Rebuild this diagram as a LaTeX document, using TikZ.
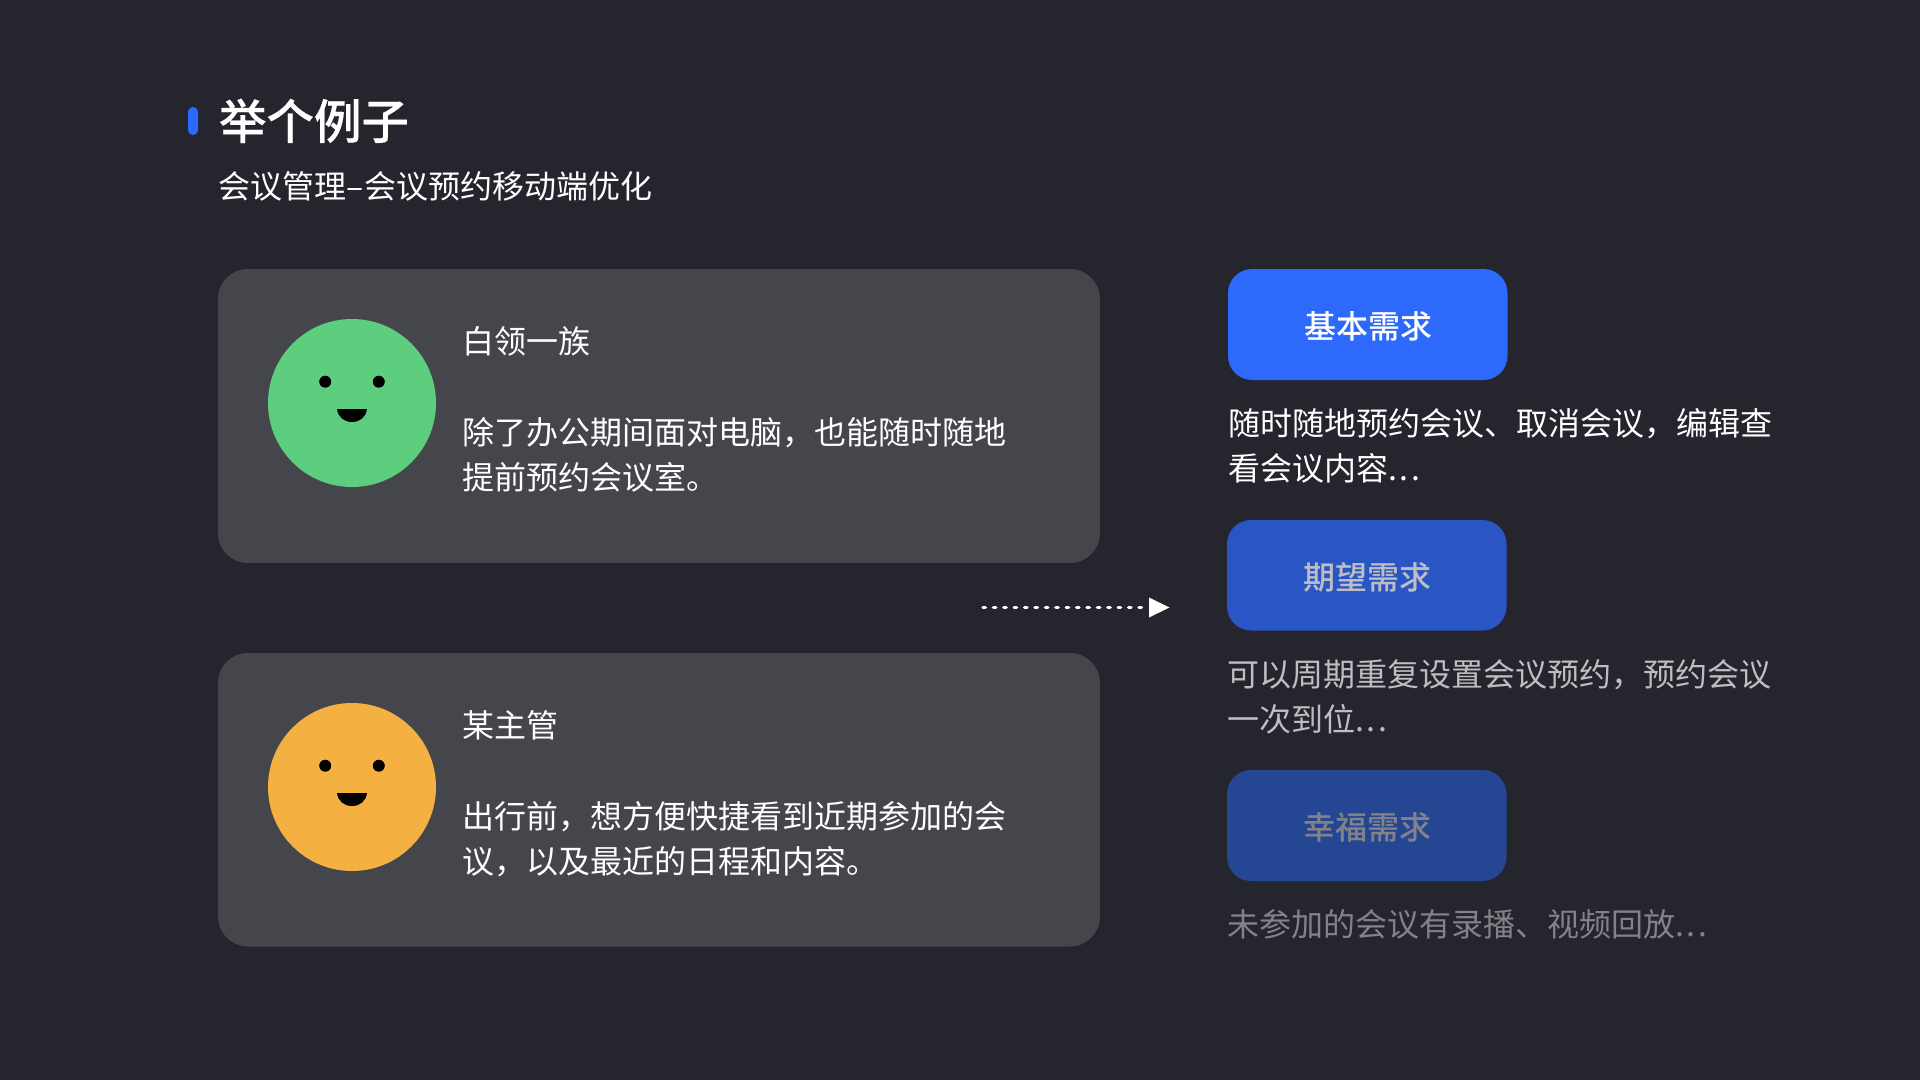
\documentclass[tikz,border=0pt]{standalone}
\usepackage{fontspec}
\setmainfont{Noto Sans CJK SC}
\newfontfamily\medfont{Noto Sans CJK SC Medium}
\newfontfamily\titlefont[FakeBold=0.4]{Noto Sans CJK SC Medium}
\definecolor{bgc}{HTML}{24252D}
\definecolor{cardc}{HTML}{45464C}
\definecolor{greenc}{HTML}{5DCE7E}
\definecolor{orangec}{HTML}{F4B142}
\definecolor{blueA}{HTML}{2D69FB}
\definecolor{blueB}{HTML}{2A55C4}
\definecolor{blueC}{HTML}{254793}
\definecolor{grayB}{HTML}{BDBEC1}
\definecolor{grayC}{HTML}{828388}
\newcommand{\dotsx}{\kern0.5pt.\kern2.5pt.\kern2.5pt.}
\newcommand{\fwc}{^^^^ff0c}
\tikzset{
  x=1pt,y=-1pt,
  txt/.style={inner sep=0pt,outer sep=0pt,anchor=north west,align=left,text=white,font=\fontsize{32}{45.5}\selectfont},
  card/.style={fill=cardc,rounded corners=30pt},
  btn/.style={rounded corners=24pt},
  btntxt/.style={inner sep=0pt,font=\fontsize{32}{36}\selectfont\medfont},
}
\newcommand{\smiley}[3]{%
  \fill[#3] (#1,#2) circle[radius=84];
  \fill[black] (#1-26.8,#2-21.3) circle[radius=6];
  \fill[black] (#1+26.8,#2-21.3) circle[radius=6];
  \fill[black] (#1-15,#2+6) -- (#1+15,#2+6) .. controls (#1+14,#2+14) and (#1+8,#2+19) .. (#1,#2+19) .. controls (#1-8,#2+19) and (#1-14,#2+14) .. (#1-15,#2+6) -- cycle;
}
\begin{document}
\begin{tikzpicture}
\useasboundingbox (0,0) rectangle (1920,1079.8);
\fill[bgc] (0,0) rectangle (1920,1080);
\fill[blueA,rounded corners=4.8pt] (188,107) rectangle (198,135);
\node[txt,anchor=base west,font=\fontsize{47.5}{54}\selectfont\titlefont] (title) at (219,139) {举个例子};
\node[txt,anchor=base west] (sub) at (218,198) {会议管理–\kern1.5pt会议预约移动端优化};
\fill[card] (218,269) rectangle (1100,563);
\fill[card] (218,653) rectangle (1100,946.5);
\smiley{352}{403}{greenc}
\smiley{352}{787}{orangec}
\node[txt,anchor=base west] (a1) at (462,353) {白领一族};
\node[txt] (a2) at (462,417) {除了办公期间面对电脑\fwc 也能随时随地\\提前预约会议室。};
\node[txt,anchor=base west] (b1) at (462,737) {某主管};
\node[txt] (b2) at (462,801) {出行前\fwc 想方便快捷看到近期参加的会\\议\fwc 以及最近的日程和内容。};
\coordinate (s) at (983,607.5);
\coordinate (e) at (1149,607.5);
\draw[white,line width=3.4pt,line cap=round,dash pattern=on 2.4pt off 8pt] (s) -- (e);
\fill[white] (1149,597.5) -- (1169.5,607.5) -- (1149,617.5) -- cycle;
\fill[blueA,btn] (1228,269) rectangle (1507.5,380);
\node[btntxt,text=white] (p1) at (1368,326) {基本需求};
\fill[blueB,btn] (1227,520) rectangle (1506.5,630.5);
\node[btntxt,text=grayB] (p2) at (1367,577) {期望需求};
\fill[blueC,btn] (1227,770) rectangle (1506.5,881);
\node[btntxt,text=grayC] (p3) at (1367,827) {幸福需求};
\node[txt] (d1) at (1228,408) {随时随地预约会议、取消会议\fwc 编辑查\\看会议内容\dotsx};
\node[txt,text=grayB] (d2) at (1227,659.5) {可以周期重复设置会议预约\fwc 预约会议\\一次到位\dotsx};
\node[txt,text=grayC] (d3) at (1227,909) {未参加的会议有录播、视频回放\dotsx};
\end{tikzpicture}
\end{document}
